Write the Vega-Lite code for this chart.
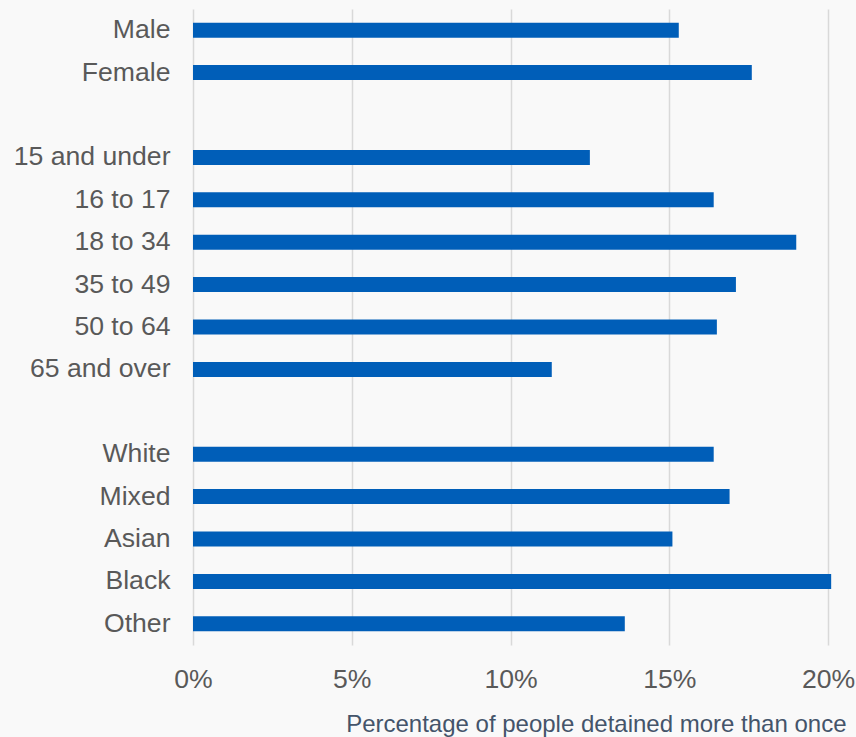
{
  "$schema": "https://vega.github.io/schema/vega-lite/v6.json",
  "autosize": {"type": "none"},
  "padding": {"left": 193, "top": 9, "right": 28, "bottom": 92},
  "width": 635,
  "height": 636,
  "background": "#f9f9f9",
  "config": {"view": {"stroke": null}, "font": "Liberation Sans"},
  "data": {
    "values": [
      {"group": "Male", "value": 0.153},
      {"group": "Female", "value": 0.176},
      {"group": "15 and under", "value": 0.125},
      {"group": "16 to 17", "value": 0.164},
      {"group": "18 to 34", "value": 0.190},
      {"group": "35 to 49", "value": 0.171},
      {"group": "50 to 64", "value": 0.165},
      {"group": "65 and over", "value": 0.113},
      {"group": "White", "value": 0.164},
      {"group": "Mixed", "value": 0.169},
      {"group": "Asian", "value": 0.151},
      {"group": "Black", "value": 0.201},
      {"group": "Other", "value": 0.136}
    ]
  },
  "mark": {"type": "bar", "color": "#005eb8", "size": 15, "clip": false},
  "encoding": {
    "y": {
      "field": "group",
      "type": "nominal",
      "sort": null,
      "scale": {
        "domain": ["Male", "Female", " ", "15 and under", "16 to 17", "18 to 34", "35 to 49", "50 to 64", "65 and over", "  ", "White", "Mixed", "Asian", "Black", "Other"],
        "paddingInner": 0,
        "paddingOuter": 0
      },
      "axis": {
        "title": null,
        "domain": false,
        "ticks": false,
        "labelPadding": 23,
        "labelFontSize": 26.6,
        "labelColor": "#595959",
        "labelFont": "Liberation Sans"
      }
    },
    "x": {
      "field": "value",
      "type": "quantitative",
      "scale": {"domain": [0, 0.2], "nice": false},
      "axis": {
        "values": [0, 0.05, 0.1, 0.15, 0.2],
        "format": ".0%",
        "domain": false,
        "ticks": false,
        "grid": true,
        "gridColor": "#d9d9d9",
        "gridWidth": 1.5,
        "labelFlush": false,
        "labelOverlap": false,
        "labelPadding": 21,
        "labelFontSize": 26.6,
        "labelColor": "#595959",
        "labelFont": "Liberation Sans",
        "title": "Percentage of people detained more than once",
        "titleFont": "Liberation Sans",
        "titleFontSize": 24,
        "titleFontWeight": "normal",
        "titleColor": "#44546a",
        "titleAnchor": null,
        "titleAlign": "right",
        "titleBaseline": "alphabetic",
        "titleX": 653,
        "titleY": 86
      }
    }
  }
}
